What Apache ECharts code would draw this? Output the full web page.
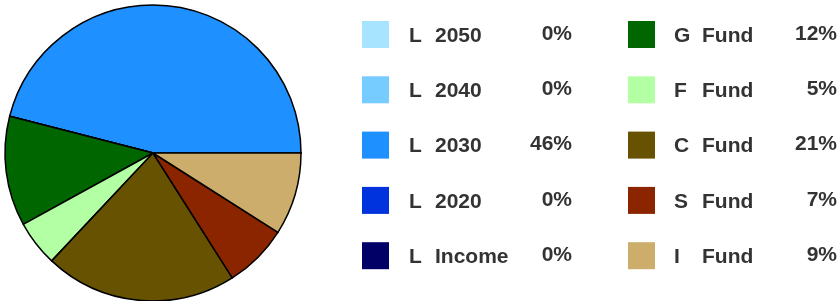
<!DOCTYPE html>
<html>
<head>
<meta charset="utf-8">
<script src="https://cdn.jsdelivr.net/npm/echarts@6/dist/echarts.min.js"></script>
<style>html,body{margin:0;padding:0;background:#fff;}#c{width:840px;height:301px;}</style>
</head>
<body>
<div id="c"></div>
<script>
const prefixes = ['L', 'L', 'L', 'L', 'L', 'G', 'F', 'C', 'S', 'I'];
const names = ['2050', '2040', '2030', '2020', 'Income', 'Fund', 'Fund', 'Fund', 'Fund', 'Fund'];
const values = [0, 0, 46, 0, 0, 12, 5, 21, 7, 9];
const colors = ['#a6e4ff', '#77ccff', '#1e90ff', '#0033dd', '#000066', '#006600', '#b3ffa3', '#665200', '#8b2500', '#ccad6b'];

const keys = prefixes.map((p, i) => p + ' ' + names[i]);
const data = keys.map((k, i) => ({ name: k, value: values[i], itemStyle: { color: colors[i] } }));
const lookup = {};
keys.forEach((k, i) => lookup[k] = i);

function richFor(gap, pw, nw, vw) {
  const base = { fontFamily: 'Liberation Sans, Arial, sans-serif', fontWeight: 'bold', fontSize: 21, color: '#333333', lineHeight: 24 };
  return {
    g: Object.assign({}, base, { width: gap }),
    p: Object.assign({}, base, { width: pw, padding: [3, 0, 0, 0] }),
    n: Object.assign({}, base, { width: nw, padding: [3, 0, 0, 0] }),
    v: Object.assign({}, base, { width: vw, align: 'right', padding: [0, 0, 1, 0] })
  };
}
function fmt(name) {
  const i = lookup[name];
  return '{g| }{p|' + prefixes[i] + '}{n|' + names[i] + '}{v|' + values[i] + '%}';
}

const chart = echarts.init(document.getElementById('c'), null, { renderer: 'canvas' });
chart.setOption({
  animation: false,
  legend: [
    {
      data: keys.slice(0, 5), orient: 'vertical', left: 362, top: 21, padding: 0,
      itemWidth: 27, itemHeight: 27, itemGap: 28.3, icon: 'rect', selectedMode: false,
      itemStyle: { borderWidth: 0 },
      formatter: fmt, textStyle: { rich: richFor(15, 26, 87, 50) }
    },
    {
      data: keys.slice(5), orient: 'vertical', left: 628, top: 21, padding: 0,
      itemWidth: 27, itemHeight: 27, itemGap: 28.3, icon: 'rect', selectedMode: false,
      itemStyle: { borderWidth: 0 },
      formatter: fmt, textStyle: { rich: richFor(14, 28, 75, 60) }
    }
  ],
  series: [{
    type: 'pie',
    center: [153, 153],
    radius: [0, 148],
    startAngle: 0,
    clockwise: false,
    avoidLabelOverlap: false,
    label: { show: false },
    labelLine: { show: false },
    emphasis: { disabled: true },
    itemStyle: { borderColor: '#000', borderWidth: 1.5 },
    data: data
  }]
});
</script>
</body>
</html>
